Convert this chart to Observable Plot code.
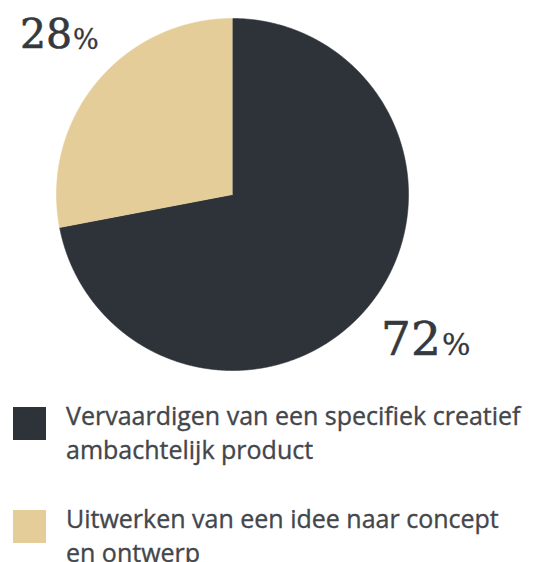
<!DOCTYPE html>
<html>
<head>
<meta charset="utf-8">
<script src="https://cdn.jsdelivr.net/npm/d3@7"></script>
<script src="https://cdn.jsdelivr.net/npm/@observablehq/plot@0.6"></script>
<style>
  html, body { margin: 0; padding: 0; background: #ffffff; }
  #wrap { position: relative; width: 558px; height: 562px; overflow: hidden; }
  #chart { position: absolute; left: 0; top: 0; }
  .legend { position: absolute; left: 0; top: 0; width: 558px; font-family: "Open Sans", "Noto Sans", sans-serif; font-size: 25px; line-height: 34px; color: #43464b; -webkit-text-stroke: 0.35px #43464b; }
  .item { position: absolute; left: 13px; }
  .sw { position: absolute; left: 0; top: 0; width: 33px; height: 33px; }
  .txt { position: absolute; left: 53px; top: -9px; white-space: nowrap; }
</style>
</head>
<body>
<div id="wrap">
  <div id="chart"></div>
  <div class="legend" id="legend"></div>
</div>
<script>
// ---- data ----
const categories = [
  "Vervaardigen van een specifiek creatief ambachtelijk product",
  "Uitwerken van een idee naar concept en ontwerp"
];
const legendLines = [
  ["Vervaardigen van een specifiek creatief", "ambachtelijk product"],
  ["Uitwerken van een idee naar concept", "en ontwerp"]
];
const values = [72, 28];
const numberLabels = ["72", "28"];
const colors = ["#2e3239", "#e4cd99"];

// ---- layout ----
const W = 558, H = 392;
const cx = 232, cy = 194, R = 176;

const data = categories.map((c, i) => ({category: c, value: values[i], num: numberLabels[i]}));
const arcs = d3.pie().sort(null).value(d => d.value)(data);

// polygon outline for each slice (center + arc sampled) in unit-circle coords
const pts = [];
arcs.forEach(a => {
  pts.push({x: 0, y: 0, category: a.data.category});
  const n = Math.max(2, Math.ceil((a.endAngle - a.startAngle) / 0.005));
  for (let k = 0; k <= n; k++) {
    const t = a.startAngle + (a.endAngle - a.startAngle) * k / n;
    pts.push({x: Math.sin(t), y: Math.cos(t), category: a.data.category});
  }
});

const labelR = 1.36;
const lab = arcs.map(a => {
  const m = (a.startAngle + a.endAngle) / 2;
  return {x: Math.sin(m) * labelR, y: Math.cos(m) * labelR, num: a.data.num, value: a.data.value};
});

const plot = Plot.plot({
  width: W,
  height: H,
  margin: 0,
  style: {background: "transparent", overflow: "visible"},
  x: {domain: [-1, 1], range: [cx - R, cx + R], axis: null},
  y: {domain: [-1, 1], range: [cy + R, cy - R], axis: null},
  color: {domain: categories, range: colors},
  marks: [
    Plot.line(pts, {x: "x", y: "y", z: "category", fill: "category", stroke: "category", strokeWidth: 0.6}),
    Plot.text(lab, {x: "x", y: "y", text: "num", textAnchor: "end", dx: 24, dy: -7,
      fontSize: d => d.value > 50 ? 47 : 41, fill: "#35383d", stroke: "#35383d", strokeWidth: 0.6,
      fontFamily: "DejaVu Serif, serif", lineAnchor: "middle"}),
    Plot.text(lab, {x: "x", y: "y", text: () => "%", textAnchor: "start", dx: 25, dy: -2,
      fontSize: d => d.value > 50 ? 30 : 27, fill: "#35383d", stroke: "#35383d", strokeWidth: 0.3,
      fontFamily: "DejaVu Serif, serif", lineAnchor: "middle"})
  ]
});
document.getElementById("chart").appendChild(plot);

// ---- legend ----
const legendTop = [407, 510];
const leg = d3.select("#legend");
categories.forEach((c, i) => {
  const it = leg.append("div").attr("class", "item").style("top", legendTop[i] + "px");
  it.append("div").attr("class", "sw").style("background", colors[i]);
  const t = it.append("div").attr("class", "txt");
  legendLines[i].forEach(l => t.append("div").text(l));
});
</script>
</body>
</html>
